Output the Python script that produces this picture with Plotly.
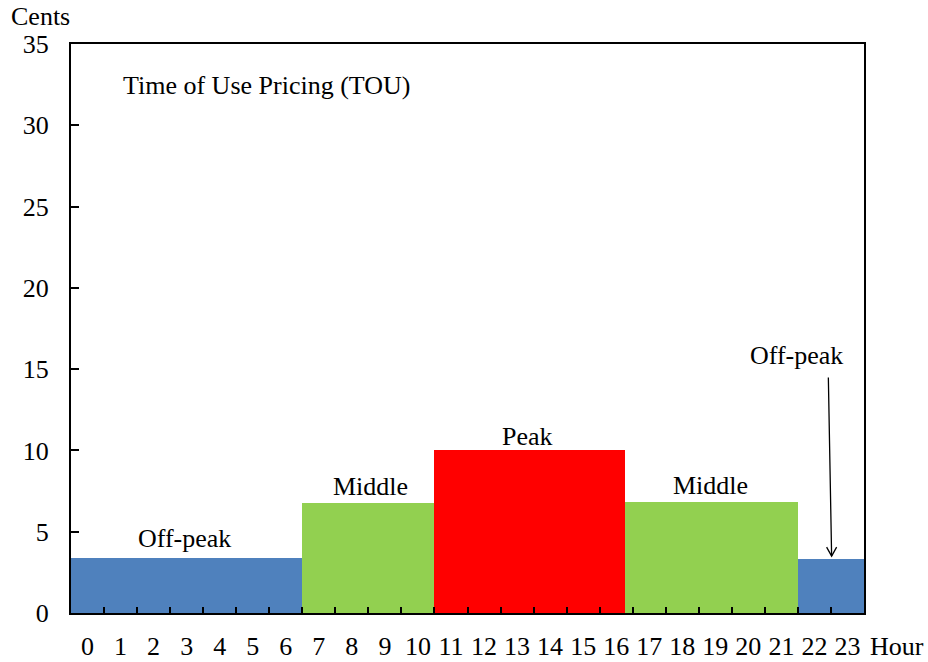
import plotly.graph_objects as go

# Price segments (hour start, hour end, cents)
seg_start = [0, 7, 11, 16.78, 22]
seg_end = [7, 11, 16.78, 22, 24]
seg_price = [3.4, 6.77, 10.0, 6.83, 3.33]
seg_color = ["#4F81BD", "#92D050", "#FF0000", "#92D050", "#4F81BD"]

hours = list(range(24))
y_ticks = [0, 5, 10, 15, 20, 25, 30, 35]

FONT = "Liberation Serif"
FS = 26

centers = [(a + b) / 2 for a, b in zip(seg_start, seg_end)]
widths = [b - a for a, b in zip(seg_start, seg_end)]

fig = go.Figure()
fig.add_trace(go.Bar(
    x=centers, y=seg_price, width=widths,
    marker=dict(color=seg_color, line=dict(width=0)),
    showlegend=False, hoverinfo="y",
))

fig.update_layout(
    width=928, height=662,
    margin=dict(l=71, r=64, t=44, b=49, autoexpand=False),
    paper_bgcolor="white", plot_bgcolor="white",
    font=dict(family=FONT, size=FS, color="black"),
    bargap=0,
    xaxis=dict(
        range=[0, 24], automargin=False,
        tickmode="array",
        tickvals=[h + 0.5 for h in hours],
        ticktext=[str(h) for h in hours],
        ticks="", showgrid=False, zeroline=False,
        showline=True, linecolor="black", linewidth=2, mirror=True,
        ticklabelstandoff=9,
        minor=dict(tickmode="array", tickvals=hours[1:], ticks="inside",
                   ticklen=6, tickwidth=1.5, tickcolor="black", showgrid=False),
    ),
    yaxis=dict(
        range=[0, 35], automargin=False,
        tickmode="array", tickvals=y_ticks,
        ticks="inside", ticklen=8, tickwidth=1.5, tickcolor="black",
        showgrid=False, zeroline=False,
        showline=True, linecolor="black", linewidth=2, mirror=True,
        ticklabelstandoff=15,
    ),
)

ann = dict(showarrow=False, font=dict(family=FONT, size=FS, color="black"))
fig.add_annotation(x=1.52, y=32.45, text="Time of Use Pricing (TOU)",
                   xanchor="left", yanchor="middle", **ann)
fig.add_annotation(x=3.42, y=4.6, text="Off-peak", xanchor="center", yanchor="middle", **ann)
fig.add_annotation(x=9.05, y=7.8, text="Middle", xanchor="center", yanchor="middle", **ann)
fig.add_annotation(x=13.83, y=10.83, text="Peak", xanchor="center", yanchor="middle", **ann)
fig.add_annotation(x=19.34, y=7.85, text="Middle", xanchor="center", yanchor="middle", **ann)
fig.add_annotation(x=21.97, y=15.87, text="Off-peak", xanchor="center", yanchor="middle", **ann)
# arrow shaft pointing to late off-peak bar
fig.add_annotation(x=23.02, y=3.5, ax=22.92, ay=14.58, axref="x", ayref="y",
                   text="", showarrow=True, arrowhead=0, arrowwidth=1.3,
                   arrowcolor="black")
# open V arrow head
fig.add_shape(type="path", xref="x", yref="y", xsizemode="pixel", ysizemode="pixel",
              xanchor=23.02, yanchor=3.5, path="M -5,9 L 0,0 L 5,9",
              line=dict(color="black", width=1.3))
# axis titles
fig.add_annotation(x=0, y=1, xref="paper", yref="paper", text="Cents",
                   xanchor="left", yanchor="middle", xshift=-61, yshift=28,
                   borderpad=0, **ann)
fig.add_annotation(x=1, y=0, xref="paper", yref="paper", text="Hour",
                   xanchor="left", yanchor="middle", xshift=5, yshift=-33,
                   borderpad=0, **ann)

fig.write_html("out.html", config={"displayModeBar": False},
               post_script="document.body.style.margin='0';")
